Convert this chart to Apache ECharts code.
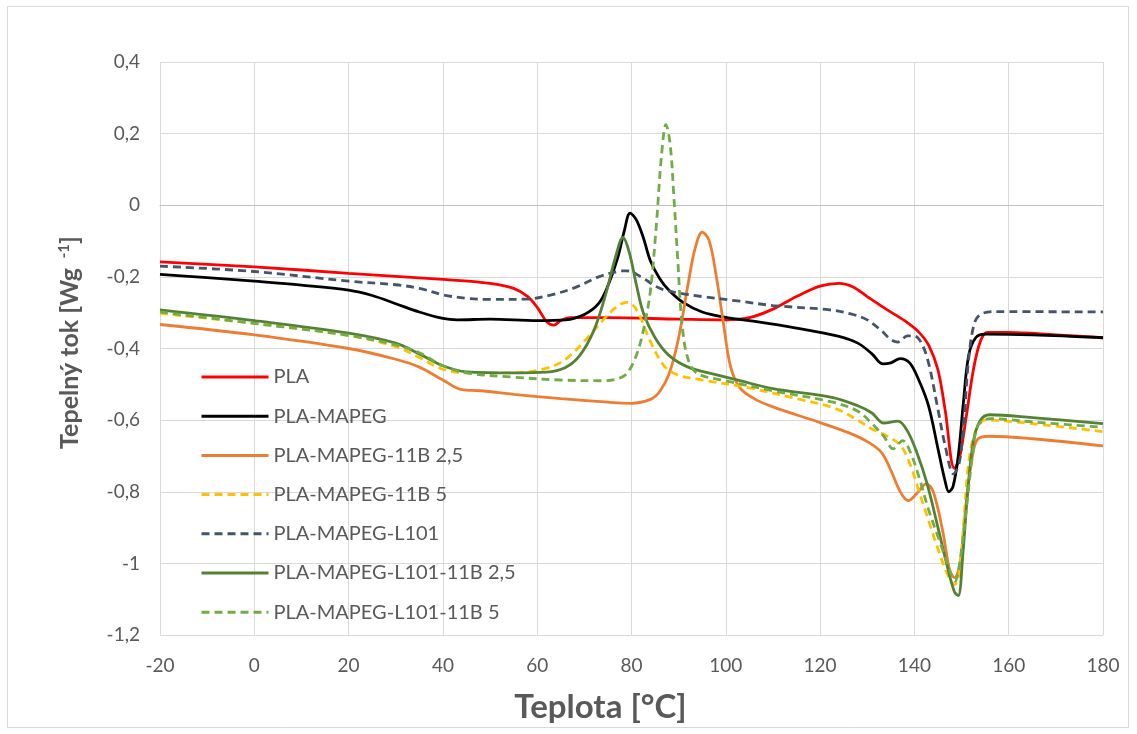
<!DOCTYPE html>
<html><head><meta charset="utf-8">
<script src="https://cdn.jsdelivr.net/npm/echarts@6/dist/echarts.min.js"></script>
<style>html,body{margin:0;padding:0;background:#fff}#c{width:1137px;height:734px}</style>
</head><body><div id="c"></div>
<script>
const seriesNames = ["PLA","PLA-MAPEG","PLA-MAPEG-11B 2,5","PLA-MAPEG-11B 5","PLA-MAPEG-L101","PLA-MAPEG-L101-11B 2,5","PLA-MAPEG-L101-11B 5"];
const xTicks = [-20,0,20,40,60,80,100,120,140,160,180];
const yTicks = [-1.2,-1,-0.8,-0.6,-0.4,-0.2,0,0.2,0.4];

const pla = [[-20,-0.158],[0,-0.172],[20,-0.19],[40,-0.207],[50,-0.218],[55,-0.232],[58,-0.255],[60,-0.285],[62,-0.325],[63.5,-0.335],[65,-0.322],[67,-0.314],[75,-0.314],[90,-0.318],[100,-0.32],[105,-0.314],[110,-0.29],[115,-0.255],[120,-0.226],[124,-0.218],[127,-0.228],[130,-0.255],[134,-0.29],[138,-0.323],[141,-0.355],[143,-0.39],[145,-0.46],[146.5,-0.57],[148.5,-0.735],[149.5,-0.71],[151,-0.59],[152.5,-0.46],[154,-0.38],[155.5,-0.355],[160,-0.355],[170,-0.362],[180,-0.37]];
const plaMapeg = [[-20,-0.193],[-10,-0.202],[0,-0.212],[10,-0.223],[20,-0.237],[25,-0.252],[30,-0.275],[35,-0.298],[40,-0.316],[43,-0.32],[50,-0.318],[60,-0.322],[66,-0.32],[70,-0.305],[73,-0.275],[75,-0.225],[77,-0.15],[78.5,-0.07],[79.7,-0.022],[81,-0.04],[82.5,-0.09],[84,-0.155],[86,-0.205],[88,-0.238],[91,-0.272],[95,-0.298],[100,-0.313],[105,-0.322],[115,-0.343],[124,-0.366],[128,-0.385],[131,-0.415],[133.3,-0.443],[135,-0.44],[137,-0.428],[139,-0.44],[141,-0.49],[143,-0.56],[145,-0.68],[146.5,-0.77],[147.3,-0.8],[148.2,-0.785],[149.3,-0.7],[150.4,-0.55],[151.5,-0.42],[153,-0.37],[155,-0.36],[165,-0.362],[180,-0.37]];
const mapeg11b25 = [[-20,-0.333],[0,-0.362],[20,-0.4],[30,-0.43],[35,-0.452],[40,-0.488],[44,-0.515],[48,-0.518],[55,-0.528],[65,-0.54],[75,-0.55],[80,-0.553],[84,-0.542],[86,-0.52],[88,-0.47],[90,-0.37],[92,-0.22],[93.5,-0.12],[95,-0.075],[96.5,-0.1],[98,-0.2],[99.5,-0.33],[101,-0.45],[103,-0.51],[106,-0.54],[110,-0.563],[120,-0.607],[126,-0.635],[130,-0.66],[133,-0.69],[135,-0.74],[137,-0.8],[138.7,-0.825],[140.5,-0.805],[142.5,-0.778],[144,-0.8],[146,-0.91],[147.5,-1.02],[148.5,-1.04],[149.7,-1.0],[151,-0.83],[152.3,-0.7],[153.5,-0.652],[156,-0.645],[165,-0.652],[180,-0.672]];
const mapeg11b5 = [[-20,-0.302],[0,-0.33],[20,-0.364],[30,-0.395],[35,-0.425],[40,-0.458],[45,-0.468],[55,-0.468],[62,-0.455],[66,-0.43],[70,-0.38],[74,-0.32],[77,-0.282],[79,-0.271],[81,-0.29],[84,-0.38],[87,-0.45],[90,-0.475],[95,-0.488],[105,-0.51],[115,-0.54],[122.7,-0.565],[128,-0.6],[131,-0.625],[134,-0.643],[137,-0.67],[139,-0.72],[141,-0.8],[143,-0.88],[145,-0.96],[147,-1.03],[148.5,-1.06],[149.5,-1.03],[150.5,-0.88],[151.5,-0.72],[153,-0.63],[155,-0.6],[165,-0.61],[180,-0.632]];
const mapegL101 = [[-20,-0.17],[0,-0.185],[20,-0.212],[30,-0.222],[35,-0.232],[40,-0.25],[45,-0.26],[50,-0.263],[58,-0.262],[63,-0.25],[68,-0.23],[73,-0.2],[77,-0.185],[79,-0.183],[82,-0.2],[86,-0.232],[90,-0.245],[95,-0.255],[103,-0.268],[110,-0.28],[122,-0.292],[127,-0.305],[130,-0.32],[133,-0.35],[135,-0.375],[136.5,-0.382],[138.5,-0.365],[140,-0.365],[141.5,-0.385],[143,-0.44],[145,-0.57],[146.5,-0.67],[148.3,-0.75],[149.5,-0.72],[150.5,-0.6],[151.5,-0.43],[152.7,-0.33],[154,-0.305],[157,-0.297],[180,-0.298]];
const l101_11b25 = [[-20,-0.292],[0,-0.322],[20,-0.357],[30,-0.385],[35,-0.415],[40,-0.448],[45,-0.465],[55,-0.468],[62,-0.466],[66,-0.453],[69,-0.42],[72,-0.35],[74.5,-0.25],[76.5,-0.15],[78.2,-0.09],[79.5,-0.13],[81,-0.22],[82.5,-0.3],[85,-0.37],[88,-0.42],[92,-0.452],[97,-0.47],[103,-0.49],[110,-0.512],[122.7,-0.537],[128,-0.56],[131,-0.58],[133.5,-0.608],[136.5,-0.603],[138.5,-0.63],[140.5,-0.69],[142.7,-0.778],[145,-0.9],[147,-1.01],[148.5,-1.08],[149.3,-1.09],[150.3,-0.97],[151.3,-0.8],[152.5,-0.66],[154,-0.6],[156,-0.585],[165,-0.593],[180,-0.61]];
const l101_11b5 = [[-20,-0.298],[0,-0.33],[20,-0.363],[30,-0.39],[35,-0.412],[40,-0.448],[45,-0.468],[55,-0.48],[65,-0.488],[74,-0.49],[77,-0.485],[79,-0.47],[81,-0.42],[82.5,-0.35],[84,-0.24],[85.3,-0.05],[86.3,0.13],[87.3,0.225],[88.2,0.17],[89,0.02],[89.8,-0.15],[90.7,-0.33],[92,-0.43],[94,-0.47],[100,-0.49],[110,-0.518],[122.7,-0.55],[128,-0.575],[131,-0.61],[133.5,-0.645],[135.5,-0.68],[137.5,-0.657],[139,-0.685],[141,-0.76],[143,-0.85],[145.4,-0.94],[147.5,-1.02],[148.6,-1.05],[149.8,-0.98],[151,-0.85],[152.3,-0.7],[153.5,-0.615],[156,-0.596],[165,-0.605],[180,-0.62]];

const seriesData = [pla, plaMapeg, mapeg11b25, mapeg11b5, mapegL101, l101_11b25, l101_11b5];
const colors = ["#FF0000","#000000","#ED7D31","#FFC000","#44546A","#548235","#70AD47"];
const dashed = [false,false,false,true,true,false,true];

const FONT = 'Lato';
const chart = echarts.init(document.getElementById('c'), null, {renderer:'canvas'});
chart.setOption({
  animation:false,
  backgroundColor:'#fff',
  textStyle:{fontFamily:FONT},
  graphic:[{type:'rect',shape:{x:7.5,y:6.5,width:1121,height:721},style:{fill:'none',stroke:'#d9d9d9',lineWidth:1},silent:true}],
  grid:{left:160,right:34,top:62,bottom:99,containLabel:false},
  legend:{
    orient:'vertical', left:195, top:362,
    itemWidth:67, itemHeight:20, itemGap:19.2,
    data:seriesNames,
    itemStyle:{opacity:0},
    lineStyle:{width:3},
    textStyle:{color:'#595959', fontSize:20, lineHeight:20, fontFamily:FONT},
    selectedMode:false
  },
  xAxis:{
    type:'value', min:-20, max:180, interval:20,
    axisLine:{show:true,lineStyle:{color:'#bfbfbf',width:1}},
    axisTick:{show:false},
    splitLine:{show:true,lineStyle:{color:'#d9d9d9',width:1}},
    axisLabel:{color:'#595959',fontSize:19,margin:21,fontFamily:FONT},
    name:'Teplota [°C]', nameLocation:'middle', nameGap:56,
    nameTextStyle:{color:'#595959',fontSize:33,fontWeight:'bold',fontFamily:FONT,padding:[0,62,0,0]}
  },
  yAxis:{
    type:'value', min:-1.2, max:0.4, interval:0.2,
    axisLine:{show:false},
    axisTick:{show:false},
    splitLine:{show:true,lineStyle:{color:'#d9d9d9',width:1}},
    axisLabel:{color:'#595959',fontSize:19,margin:20,fontFamily:FONT,
      formatter:v=>{const r=Math.round(v*10)/10; return String(r).replace('.',',');}},
    name:'{a|Tepelný tok [Wg }{s| -1}{a|]}', nameLocation:'middle', nameGap:78, nameRotate:90,
    nameTextStyle:{color:'#595959',fontSize:25,fontWeight:'bold',fontFamily:FONT,padding:[0,0,0,12],
      rich:{a:{color:'#595959',fontSize:25,fontWeight:'bold',fontFamily:FONT},
            s:{color:'#595959',fontSize:15,fontWeight:'bold',fontFamily:FONT,verticalAlign:'top',padding:[0,0,10,0]}}}
  },
  series: seriesNames.map((n,i)=>({
    name:n, type:'line', data:seriesData[i], showSymbol:false, symbol:'none',
    smooth:0.35, z:2+i,
    lineStyle:{color:colors[i], width:2.8, type: dashed[i]?[8,5]:'solid', cap:'butt'},
    itemStyle:{color:colors[i]}
  }))
});
</script></body></html>
